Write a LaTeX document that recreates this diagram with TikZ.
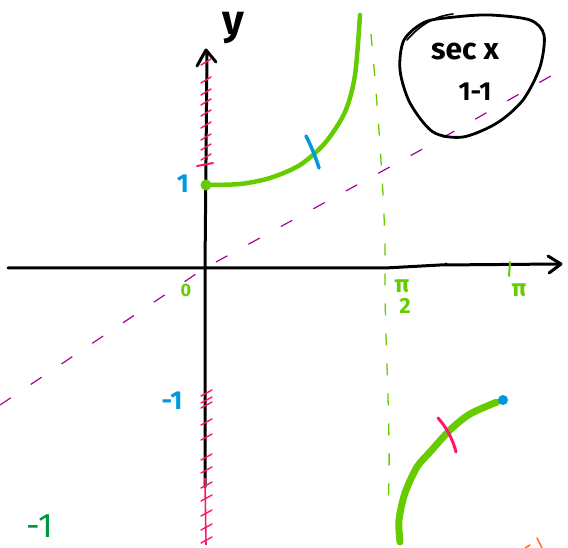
\documentclass[tikz,border=0pt]{standalone}
\usepackage{fontspec}
\setmainfont{Fira Sans}
\usetikzlibrary{arrows.meta}
\definecolor{lgreen}{RGB}{102,204,0}
\definecolor{skyb}{RGB}{0,153,221}
\definecolor{hotpink}{RGB}{255,20,110}
\definecolor{purp}{RGB}{170,0,150}
\definecolor{dgreen}{RGB}{0,150,60}
\definecolor{orng}{RGB}{255,110,20}
\tikzset{
  axisline/.style={line width=3pt,line cap=round,line join=round,black},
  chev/.style={line width=3pt,line cap=round,line join=round,black},
  pinktick/.style={hotpink,line width=1.4pt,line cap=round},
  diag/.style={purp,line width=1.2pt,dash pattern=on 13pt off 24pt},
  asym/.style={lgreen,line width=1.3pt,dash pattern=on 12pt off 18pt},
  lbl/.style={inner sep=0pt},
}
\newcommand{\fs}[1]{\fontsize{#1}{#1}\selectfont\bfseries}
\begin{document}
\begin{tikzpicture}[x=1pt,y=-1pt]
\useasboundingbox (0,0) rectangle (568,548);
% diagonal y=x
\draw[diag] (0,405) -- (205,268) -- (430,145) -- (556,73);
% asymptote
\draw[asym] (371,34) .. controls (380,130) and (386,230) .. (385,265) .. controls (384,330) and (392,440) .. (388,505);
% axes
\draw[axisline] (8,268) -- (385,268) -- (440,265) -- (560,264);
\draw[chev] (548,256) -- (561,264) -- (549,273);
\draw[axisline] (205,487) -- (205,268) -- (207,52);
\draw[chev] (197,66) -- (206,50) -- (216,62);
\draw[hotpink,line width=1.6pt] (205,478) -- (206,545);
\fill (446,264) circle (1.6pt);
% pink ticks upper
\foreach \yy in {62,80,92,102,113,125,137,147,157} {
  \draw[pinktick] (201,\yy+3) -- (211,\yy-3);
}
\draw[pinktick,line width=2pt] (197,166) -- (213,163);
% pink ticks lower
\foreach \yy in {393,400,405,422,437,457,470,485,498,513,527,540} {
  \draw[pinktick] (201,\yy+3) -- (212,\yy-3);
}
% upper branch
\draw[lgreen,line width=4.5pt,line cap=round] plot[smooth] coordinates {(206,185) (240,184) (270,178) (300,165) (325,143) (345,112) (355,75) (360,15)};
\fill[lgreen] (206,185) circle (5.5pt);
\draw[skyb,line width=3.5pt,line cap=round] (306,136) .. controls (312,148) and (316,158) .. (319,168);
% lower branch
\draw[lgreen,line width=7pt,line cap=round] plot[smooth] coordinates {(400,542) (399,520) (405,493) (417,467) (430,452) (450,430) (470,414) (497,402)};
\fill[skyb] (503,400) circle (5pt);
\draw[hotpink,line width=3pt,line cap=round] (438,418) .. controls (447,428) and (453,440) .. (456,452);
% labels
\node[lbl,skyb,font=\fs{26}] (one) at (183,184) {1};
\node[lbl,lgreen,font=\fs{18}] (zero) at (186,290) {0};
\node[lbl,skyb,font=\fs{26}] (mone) at (172,401) {-1};
\node[lbl,black,font=\fs{42}] (ylab) at (233,28) {y};
\node[lbl,lgreen,font=\fs{24}] (pitop) at (402,286) {π};
\node[lbl,lgreen,font=\fs{22}] (two) at (405,306) {2};
\draw[lgreen,line width=2pt,line cap=round] (510,262) -- (509,276);
\node[lbl,lgreen,font=\fs{24}] (pi) at (519,290) {π};
\node[lbl,dgreen,font=\fontsize{34}{34}\selectfont] (mone2) at (40,526) {-1};
% orange marks
\draw[orng,line width=1.5pt,line cap=round] (537,538) -- (542,548);
\draw[orng,line width=1.5pt,line cap=round] (525,548) -- (530,545);
% blob
\draw[black,line width=2.8pt,line join=round] plot[smooth cycle] coordinates {(404,40) (425,22) (455,17) (490,15) (530,20) (544,35) (540,67) (523,100) (497,123) (463,137) (433,132) (410,103) (400,70)};
\draw[black,line width=1.6pt,line cap=round] (407,40) .. controls (420,25) and (435,16) .. (453,14);
\node[lbl,black,font=\fs{30}] (sec) at (465,52) {sec x};
\node[lbl,black,font=\fs{26}] (oneone) at (475,92) {1-1};
\end{tikzpicture}
\end{document}
